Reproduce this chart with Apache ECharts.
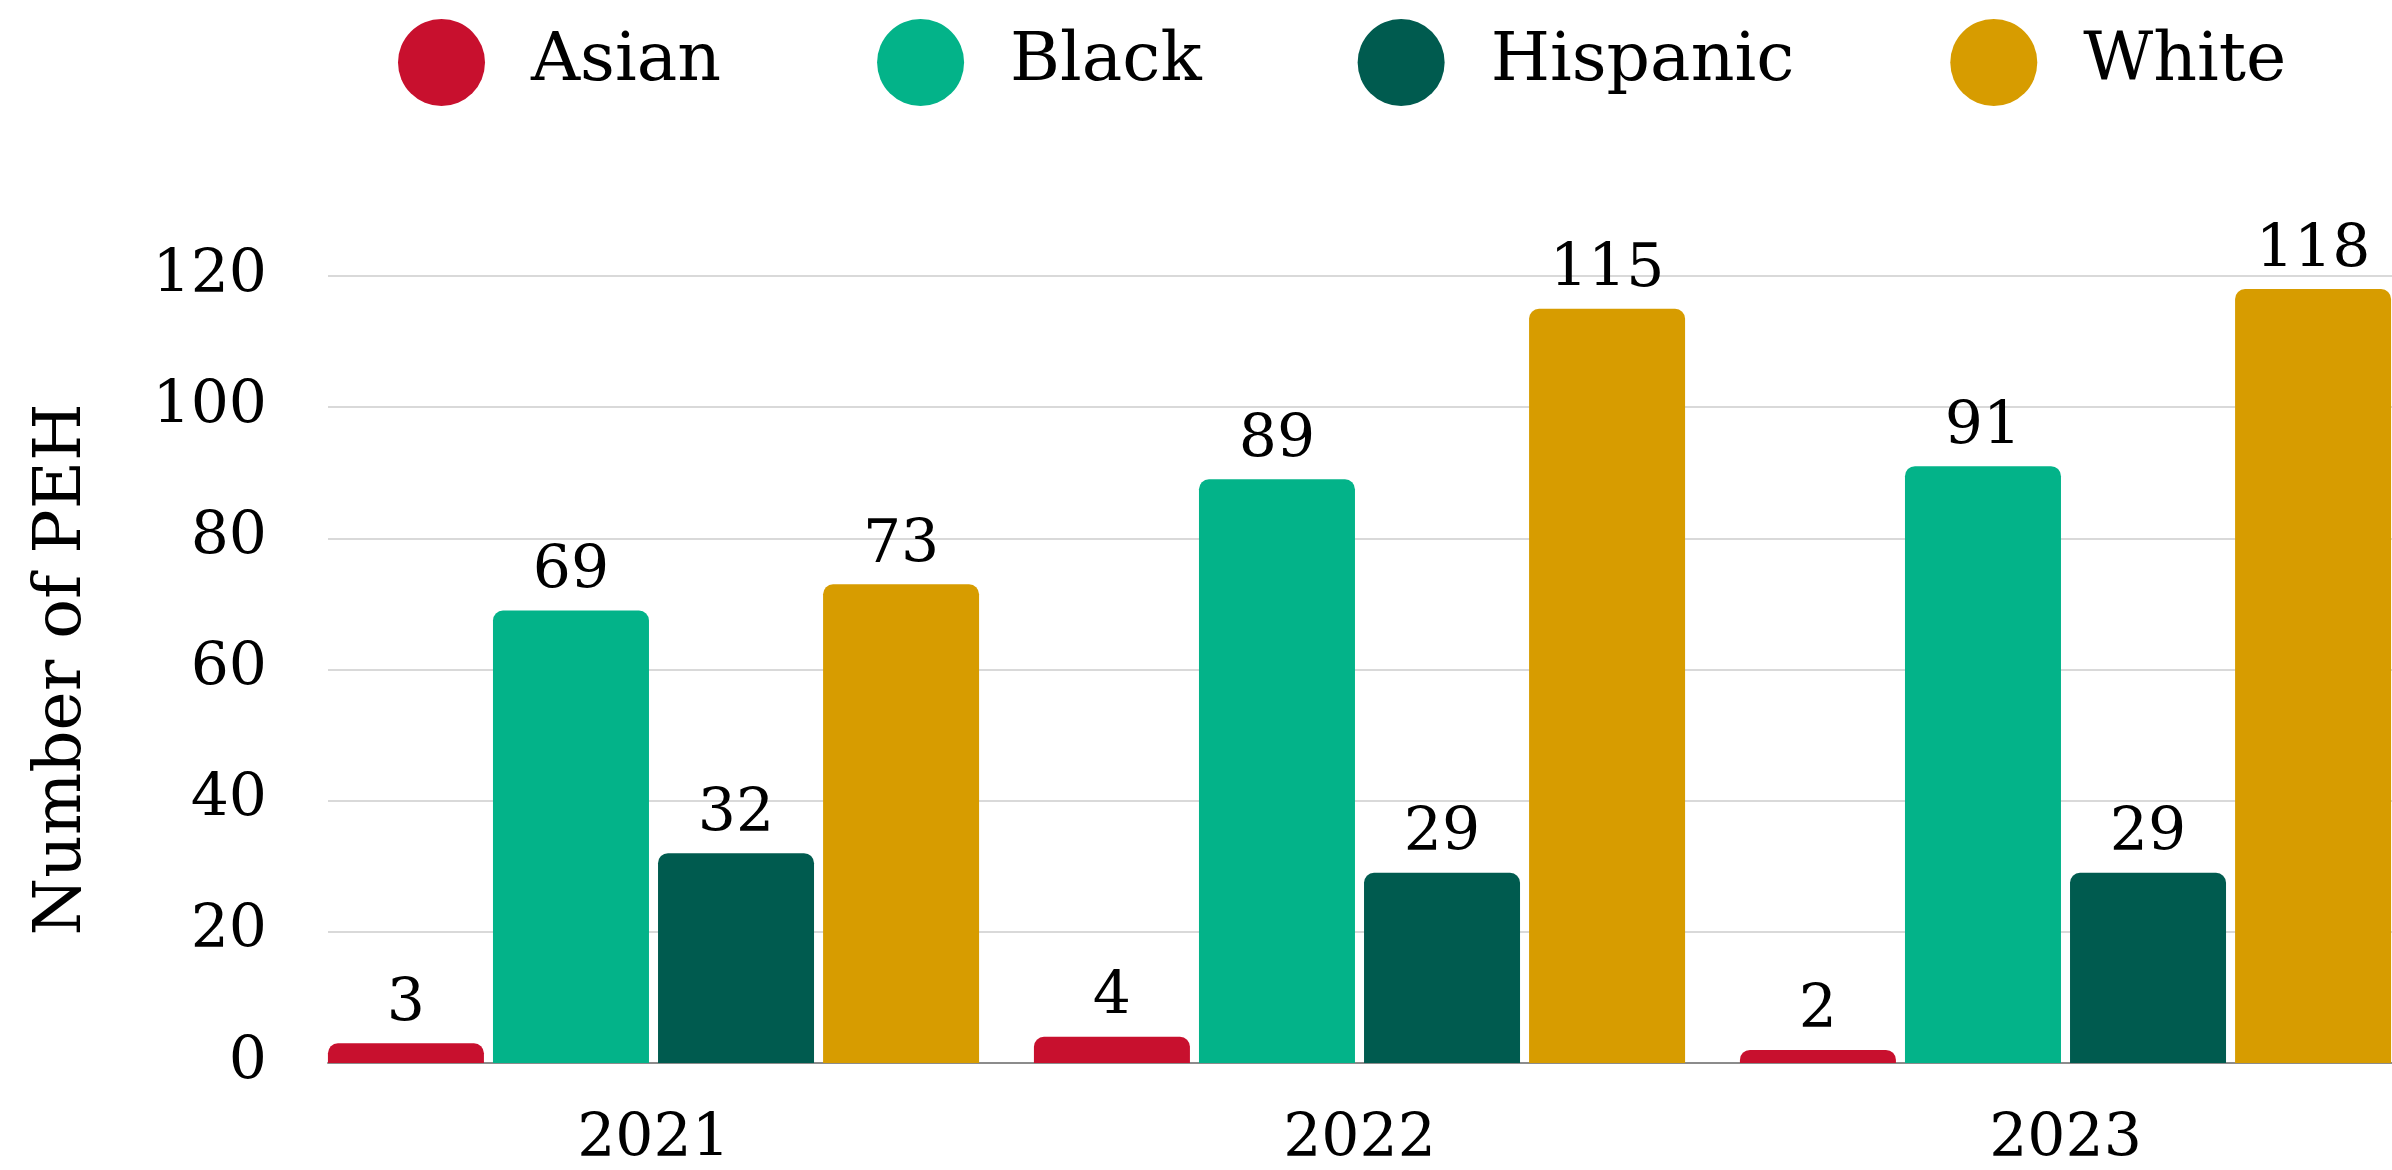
<!DOCTYPE html>
<html>
<head>
<meta charset="utf-8">
<script src="https://cdn.jsdelivr.net/npm/echarts@6/dist/echarts.min.js"></script>
<style>
html,body{margin:0;padding:0;background:#fff;}
#chart{width:2392px;height:1170px;}
</style>
</head>
<body>
<div id="chart"></div>
<script>
const categories = ['2021', '2022', '2023'];
const seriesNames = ['Asian', 'Black', 'Hispanic', 'White'];
const asian = [3, 4, 2];
const black = [69, 89, 91];
const hispanic = [32, 29, 29];
const white = [73, 115, 118];
const yTicks = [0, 20, 40, 60, 80, 100, 120];
const colors = ['#C8102E', '#03B389', '#005B4F', '#D79C00'];

const FONT = 'DejaVu Serif';
const values = [asian, black, hispanic, white];

const chart = echarts.init(document.getElementById('chart'), null, {renderer: 'canvas'});
chart.setOption({
  backgroundColor: '#ffffff',
  animation: false,
  textStyle: {fontFamily: FONT},
  legend: {
    data: seriesNames,
    left: 393,
    top: 14,
    icon: 'circle',
    itemWidth: 87,
    itemHeight: 87,
    itemGap: 156,
    textStyle: {fontFamily: FONT, fontSize: 68, color: '#000', padding: [0, 0, 0, 41]}
  },
  grid: [
    {left: 328, right: 0, top: 276, bottom: 107, outerBoundsMode: 'none'},
    {left: 300.5, width: 2118, top: 276, bottom: 107, outerBoundsMode: 'none'}
  ],
  xAxis: [
    {type: 'category', gridIndex: 0, data: categories,
     axisLine: {show: true, lineStyle: {color: '#8c8c8c', width: 2}},
     axisTick: {show: false}, axisLabel: {show: false}},
    {type: 'category', gridIndex: 1, data: categories,
     axisLine: {show: false}, axisTick: {show: false},
     axisLabel: {fontFamily: FONT, fontSize: 60, color: '#000', margin: 47}}
  ],
  yAxis: [
    {type: 'value', gridIndex: 0, min: 0, max: 120, interval: 20,
     name: 'Number of PEH', nameLocation: 'middle', nameRotate: 90, nameGap: 232,
     nameTextStyle: {fontFamily: FONT, fontSize: 66, color: '#000'},
     axisLine: {show: false}, axisTick: {show: false},
     axisLabel: {fontFamily: FONT, fontSize: 60, color: '#000', margin: 61,
       formatter: v => yTicks.includes(v) ? String(v) : ''},
     splitLine: {show: true, lineStyle: {color: '#d9d9d9', width: 2}}},
    {type: 'value', gridIndex: 1, min: 0, max: 120, interval: 20, show: false,
     splitLine: {show: false}}
  ],
  series: seriesNames.map((name, i) => ({
    name: name,
    type: 'bar',
    xAxisIndex: 1,
    yAxisIndex: 1,
    data: values[i],
    barWidth: 156,
    barGap: '5.8%',
    itemStyle: {color: colors[i], borderRadius: [10, 10, 0, 0]},
    label: {show: true, position: 'top', distance: 8, fontFamily: FONT, fontSize: 60, color: '#000'}
  }))
});
</script>
</body>
</html>
